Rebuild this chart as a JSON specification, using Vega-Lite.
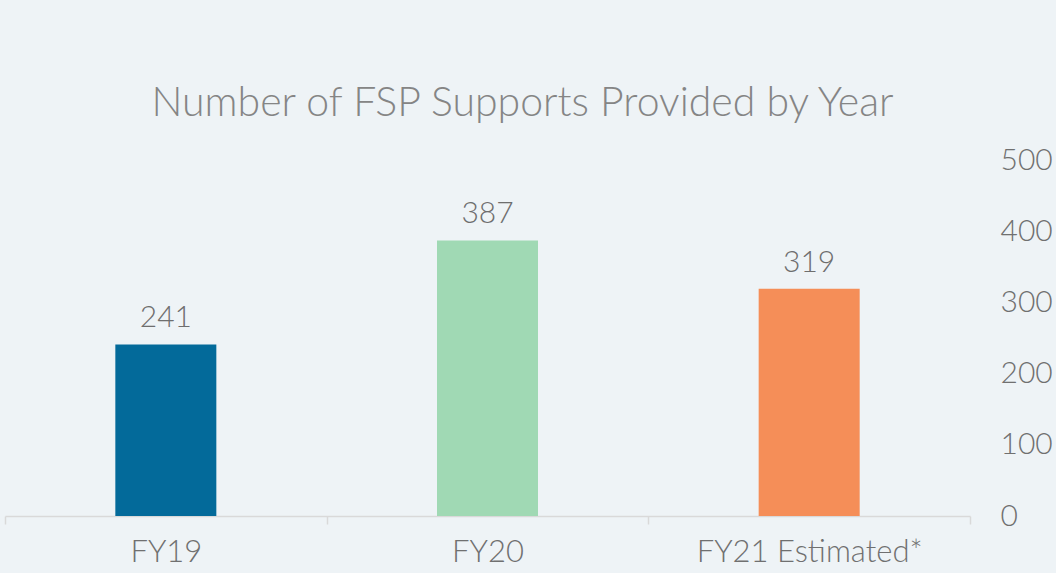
{
  "$schema": "https://vega.github.io/schema/vega-lite/v6.json",
  "autosize": {"type": "none"},
  "width": 965,
  "height": 356,
  "padding": {"left": 5, "top": 160, "right": 86, "bottom": 57},
  "background": "#EEF3F6",
  "config": {
    "view": {"stroke": null},
    "font": "Lato"
  },
  "title": {
    "text": "Number of FSP Supports Provided by Year",
    "fontSize": 41,
    "fontWeight": 300,
    "color": "#858585",
    "anchor": "middle",
    "dx": 35,
    "offset": 20,
    "font": "Lato"
  },
  "data": {
    "values": [
      {"year": "FY19", "supports": 241},
      {"year": "FY20", "supports": 387},
      {"year": "FY21 Estimated*", "supports": 319}
    ]
  },
  "encoding": {
    "x": {
      "field": "year",
      "type": "nominal",
      "sort": null,
      "scale": {"paddingInner": 0, "paddingOuter": 0},
      "axis": {
        "title": null,
        "labelAngle": 0,
        "labelLimit": 400,
        "labelFontSize": 31,
        "labelFont": "Lato",
        "labelFontWeight": 300,
        "labelColor": "#707070",
        "labelPadding": 13,
        "domainColor": "#D9D9D9",
        "domainWidth": 1.5,
        "tickColor": "#D9D9D9",
        "tickWidth": 1.5,
        "tickSize": 8,
        "tickBand": "extent",
        "grid": false
      }
    },
    "y": {
      "field": "supports",
      "type": "quantitative",
      "scale": {"domain": [0, 500]},
      "axis": {
        "orient": "right",
        "title": null,
        "values": [0, 100, 200, 300, 400, 500],
        "labelFontSize": 30,
        "labelFont": "Lato",
        "labelFontWeight": 300,
        "labelColor": "#707070",
        "labelPadding": 30,
        "ticks": false,
        "domain": false,
        "grid": false
      }
    }
  },
  "layer": [
    {
      "mark": {"type": "bar", "width": {"band": 0.314}},
      "encoding": {
        "color": {
          "field": "year",
          "type": "nominal",
          "sort": null,
          "scale": {"range": ["#036A9A", "#A0D9B4", "#F58E58"]},
          "legend": null
        }
      }
    },
    {
      "mark": {"type": "text", "baseline": "alphabetic", "dy": -17, "fontSize": 30, "fontWeight": 300, "color": "#6E6E6E", "font": "Lato"},
      "encoding": {
        "text": {"field": "supports", "type": "quantitative"}
      }
    }
  ]
}
